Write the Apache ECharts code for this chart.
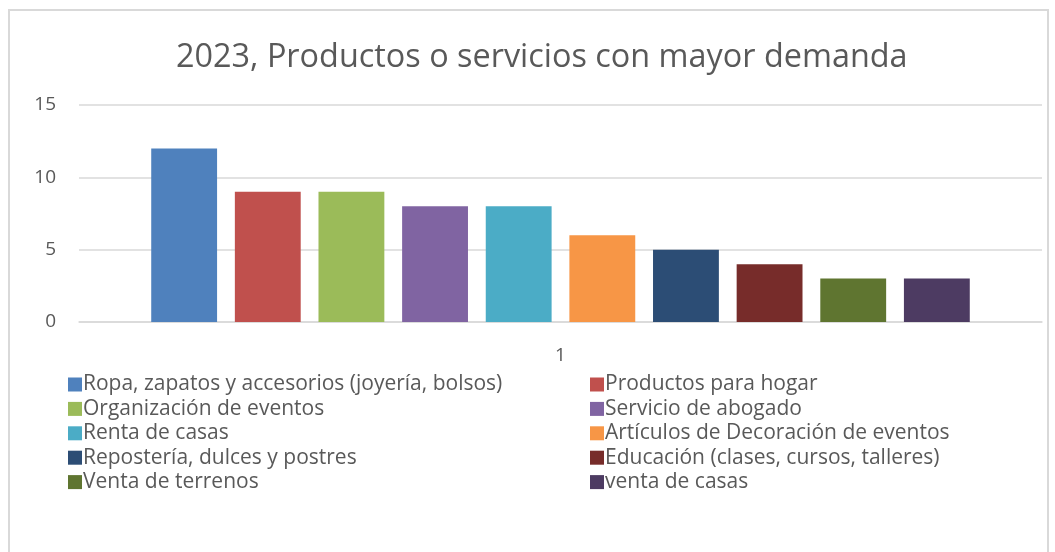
<!DOCTYPE html>
<html>
<head>
<meta charset="utf-8">
<script src="https://cdn.jsdelivr.net/npm/echarts@6/dist/echarts.min.js"></script>
<style>
  html, body { margin: 0; padding: 0; background: #fff; }
  #chart { width: 1055px; height: 552px; }
</style>
</head>
<body>
<div id="chart"></div>
<script>
const titleText = '2023, Productos o servicios con mayor demanda';
const categories = ['1'];
const seriesNames = [
  'Ropa, zapatos y accesorios (joyería, bolsos)',
  'Productos para hogar',
  'Organización de eventos',
  'Servicio de abogado',
  'Renta de casas',
  'Artículos de Decoración de eventos',
  'Repostería, dulces y postres',
  'Educación (clases, cursos, talleres)',
  'Venta de terrenos',
  'venta de casas'
];
const seriesValues = [12, 9, 9, 8, 8, 6, 5, 4, 3, 3];
const seriesColors = ['#4F81BD', '#C0504D', '#9BBB59', '#8064A2', '#4BACC6',
                      '#F79646', '#2C4D75', '#772C2A', '#5F7530', '#4D3B62'];

const chart = echarts.init(document.getElementById('chart'));
const fontFamily = 'Open Sans';
const textColor = '#595959';

// legend columns: even items left, odd items right (Excel row order)
const leftNames = seriesNames.filter((n, i) => i % 2 === 0);
const rightNames = seriesNames.filter((n, i) => i % 2 === 1);
const legendBase = {
  orient: 'vertical',
  top: 369,
  itemWidth: 14,
  itemHeight: 14,
  itemGap: 3.4,
  icon: 'rect',
  textStyle: { color: textColor, fontSize: 21, lineHeight: 20, fontFamily: fontFamily, padding: [0, 0, 0, -4] }
};

const options = {
  animation: false,
  color: seriesColors,
  title: {
    text: titleText,
    left: 171,
    top: 37,
    textStyle: { color: textColor, fontSize: 32.4, fontWeight: 'normal', fontFamily: fontFamily }
  },
  graphic: [{
    type: 'rect',
    shape: { x: 9, y: 10, width: 1039, height: 560 },
    style: { fill: 'none', stroke: '#d9d9d9', lineWidth: 2 },
    silent: true
  }],
  legend: [
    Object.assign({}, legendBase, { left: 63, data: leftNames }),
    Object.assign({}, legendBase, { left: 585, data: rightNames })
  ],
  grid: { left: 79, right: 13, top: 105, bottom: 230 },
  xAxis: {
    type: 'category',
    data: categories,
    axisLine: { lineStyle: { color: '#d9d9d9', width: 1.5 } },
    axisTick: { show: false },
    axisLabel: { color: textColor, fontSize: 19, fontFamily: fontFamily, margin: 24 }
  },
  yAxis: {
    type: 'value',
    min: 0,
    max: 15,
    interval: 5,
    axisLine: { show: false },
    axisTick: { show: false },
    splitLine: { lineStyle: { color: '#d9d9d9', width: 1.5 } },
    axisLabel: { color: textColor, fontSize: 19, fontFamily: fontFamily, margin: 23 }
  },
  series: seriesNames.map((name, i) => ({
    name: name,
    type: 'bar',
    data: [seriesValues[i]],
    barGap: '27%',
    barCategoryGap: '15%'
  }))
};

chart.setOption(options);
</script>
</body>
</html>
